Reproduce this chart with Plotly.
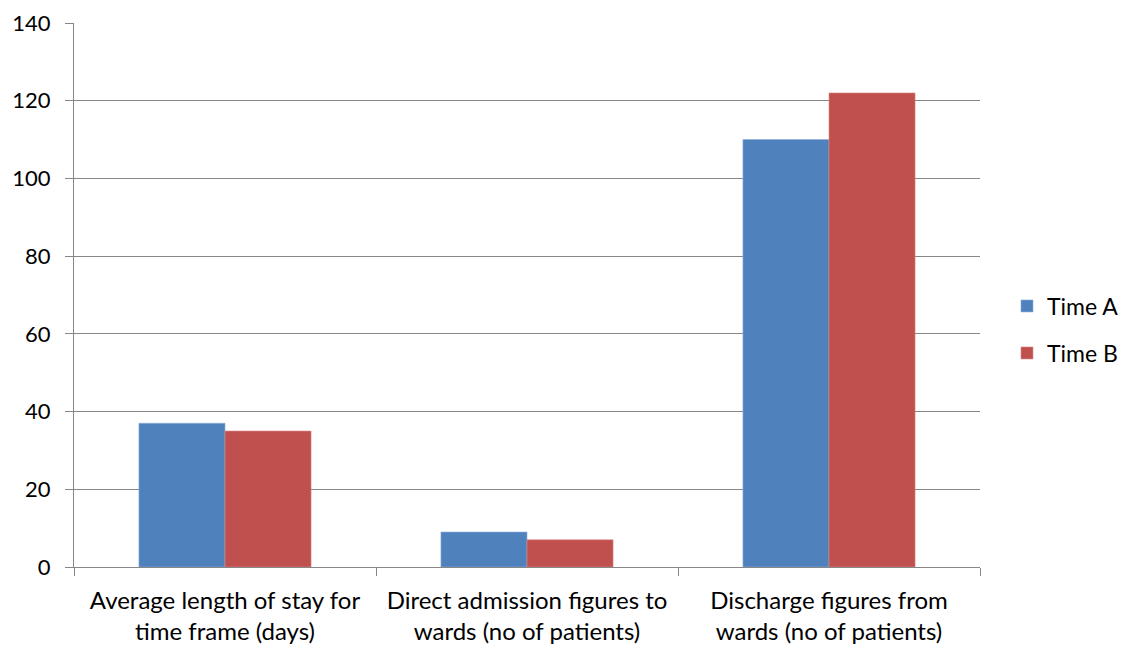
import plotly.graph_objects as go

categories = [
    "Average length of stay for<br>time frame (days)",
    "Direct admission figures to<br>wards (no of patients)",
    "Discharge figures from<br>wards (no of patients)",
]
time_a = [37, 9, 110]
time_b = [35, 7, 122]
y_ticks = [0, 20, 40, 60, 80, 100, 120, 140]

FONT = "Lato, 'Open Sans', sans-serif"
GRID = "#878787"

fig = go.Figure()
fig.add_trace(go.Bar(
    x=categories, y=time_a, name="Time A",
    marker=dict(color="#4F81BD", line=dict(color="#8FAEDA", width=0.6)),
    legend="legend", showlegend=True,
))
fig.add_trace(go.Bar(
    x=categories, y=time_b, name="Time B",
    marker=dict(color="#C0504D", line=dict(color="#DC8C8A", width=0.6)),
    legend="legend2", showlegend=True,
))

legend_common = dict(
    xref="container", yref="container",
    x=0.8975, xanchor="left", yanchor="middle",
    font=dict(family=FONT, size=23, color="#000000"),
    bgcolor="rgba(0,0,0,0)", itemwidth=30,
)

fig.update_layout(
    width=1122, height=645,
    margin=dict(l=74, r=142, t=23, b=78, autoexpand=False),
    paper_bgcolor="white", plot_bgcolor="white",
    showlegend=True,
    barmode="group", bargap=0.43, bargroupgap=0,
    font=dict(family=FONT, size=23, color="#000000"),
    legend=dict(y=1 - 306 / 645, **legend_common),
    legend2=dict(y=1 - 353 / 645, **legend_common),
    xaxis=dict(
        showline=True, linecolor=GRID, linewidth=1.3,
        ticks="outside", tickson="boundaries", ticklen=8, tickcolor=GRID, tickwidth=1.3,
        showgrid=False, tickfont=dict(family=FONT, size=24),
        ticklabelstandoff=12, automargin=False,
    ),
    yaxis=dict(
        range=[0, 140], tickvals=y_ticks,
        showline=True, linecolor=GRID, linewidth=1.3,
        ticks="outside", ticklen=8, tickcolor=GRID, tickwidth=1.3,
        showgrid=True, gridcolor=GRID, gridwidth=1.3,
        zeroline=False, tickfont=dict(family=FONT, size=22),
        ticklabelstandoff=10, automargin=False,
    ),
)

fig.write_html("out.html")
